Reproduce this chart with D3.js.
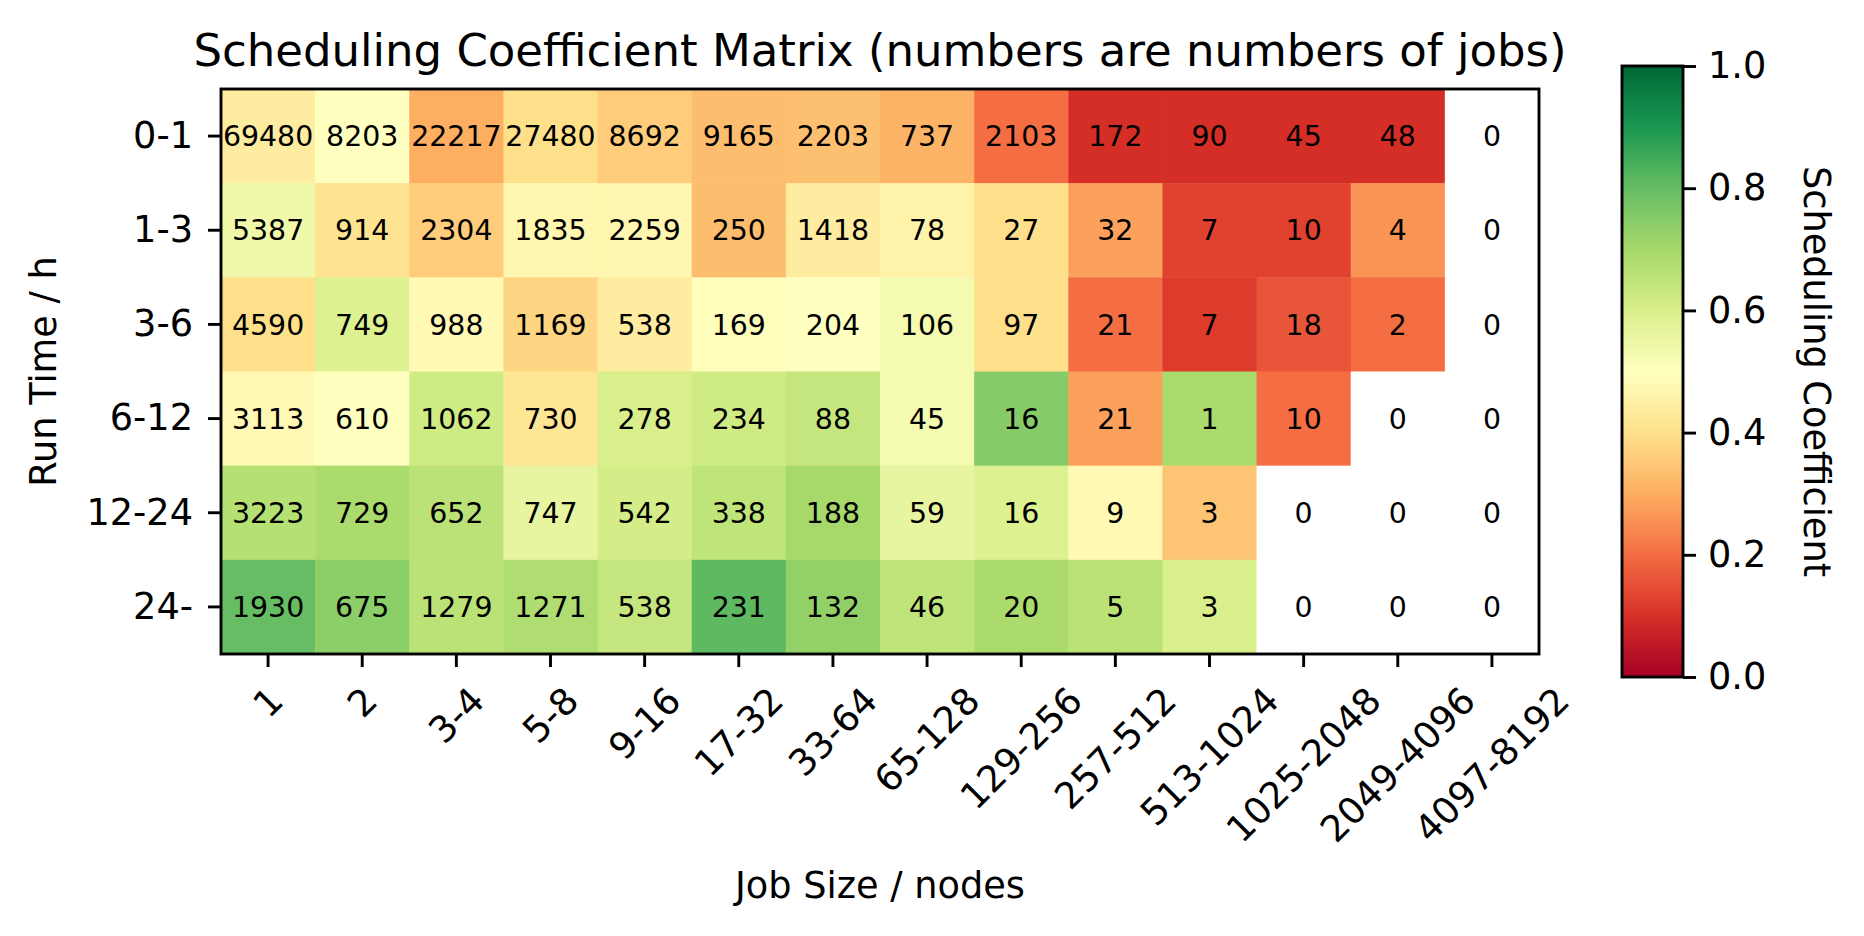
<!DOCTYPE html>
<html>
<head>
<meta charset="utf-8">
<script src="https://cdn.jsdelivr.net/npm/d3@7"></script>
<style>
	body { margin: 0; background: #fff; }
	text { font-family: "DejaVu Sans", sans-serif; fill: #000; }
</style>
</head>
<body>
<svg id="chart" width="1864" height="936"></svg>
<script>
var jobSizes = [ '1', '2', '3-4', '5-8', '9-16', '17-32', '33-64', '65-128', '129-256', '257-512', '513-1024', '1025-2048', '2049-4096', '4097-8192' ];

var runTimes = [ '0-1', '1-3', '3-6', '6-12', '12-24', '24-' ];

// numbers of jobs per cell (rows = run time, columns = job size)
var jobCounts = [
	[ 69480, 8203, 22217, 27480, 8692, 9165, 2203, 737, 2103, 172, 90, 45, 48, 0 ],
	[ 5387, 914, 2304, 1835, 2259, 250, 1418, 78, 27, 32, 7, 10, 4, 0 ],
	[ 4590, 749, 988, 1169, 538, 169, 204, 106, 97, 21, 7, 18, 2, 0 ],
	[ 3113, 610, 1062, 730, 278, 234, 88, 45, 16, 21, 1, 10, 0, 0 ],
	[ 3223, 729, 652, 747, 542, 338, 188, 59, 16, 9, 3, 0, 0, 0 ],
	[ 1930, 675, 1279, 1271, 538, 231, 132, 46, 20, 5, 3, 0, 0, 0 ]
];

// scheduling coefficient per cell, read from the colours (null = no jobs)
var coefficients = [
	[ 0.44, 0.50, 0.30, 0.40, 0.36, 0.33, 0.335, 0.31, 0.20, 0.095, 0.095, 0.095, 0.095, null ],
	[ 0.54, 0.41, 0.36, 0.47, 0.47, 0.33, 0.44, 0.46, 0.40, 0.28, 0.13, 0.13, 0.26, null ],
	[ 0.40, 0.59, 0.48, 0.38, 0.44, 0.495, 0.50, 0.53, 0.40, 0.20, 0.12, 0.16, 0.20, null ],
	[ 0.48, 0.50, 0.62, 0.42, 0.60, 0.62, 0.64, 0.53, 0.75, 0.28, 0.69, 0.20, null, null ],
	[ 0.67, 0.69, 0.66, 0.56, 0.61, 0.65, 0.70, 0.56, 0.59, 0.48, 0.345, null, null, null ],
	[ 0.80, 0.74, 0.66, 0.68, 0.64, 0.81, 0.73, 0.65, 0.69, 0.66, 0.60, null, null, null ]
];

var colorbarTicks = [ 0, 0.2, 0.4, 0.6, 0.8, 1.0 ];

// RdYlGn, linear between the brewer stops like matplotlib
var rdylgn = [ '#a50026', '#d73027', '#f46d43', '#fdae61', '#fee08b', '#ffffbf', '#d9ef8b', '#a6d96a', '#66bd63', '#1a9850', '#006837' ];

var plot = { left: 221, right: 1539, top: 89, bottom: 654 };
var bar = { left: 1622, right: 1683, top: 66, bottom: 677 };
var tickFont = 36.7;
var cellFont = 28.4;
var lineW = 2.9;
var tickLen = 13;

var svg = d3.select( '#chart' );

var x = d3.scaleBand().domain( jobSizes ).range( [ plot.left, plot.right ] ).padding( 0 );
var y = d3.scaleBand().domain( runTimes ).range( [ plot.top, plot.bottom ] ).padding( 0 );

var color = d3.scaleLinear()
	.domain( rdylgn.map( function ( d, i ) { return i / ( rdylgn.length - 1 ); } ) )
	.range( rdylgn )
	.interpolate( d3.interpolateRgb );

var cells = [];
runTimes.forEach( function ( r, i ) {
	jobSizes.forEach( function ( s, j ) {
		cells.push( { run: r, size: s, count: jobCounts[i][j], value: coefficients[i][j] } );
	} );
} );

svg.append( 'g' ).selectAll( 'rect' )
	.data( cells )
	.join( 'rect' )
	.attr( 'x', function ( d ) { return x( d.size ); } )
	.attr( 'y', function ( d ) { return y( d.run ); } )
	.attr( 'width', x.bandwidth() + 0.5 )
	.attr( 'height', y.bandwidth() + 0.5 )
	.attr( 'fill', function ( d ) { return d.value === null ? '#ffffff' : color( d.value ); } );

svg.append( 'g' ).selectAll( 'text' )
	.data( cells )
	.join( 'text' )
	.attr( 'x', function ( d ) { return x( d.size ) + x.bandwidth() / 2; } )
	.attr( 'y', function ( d ) { return y( d.run ) + y.bandwidth() / 2; } )
	.attr( 'dy', '0.36em' )
	.attr( 'text-anchor', 'middle' )
	.attr( 'font-size', cellFont )
	.text( function ( d ) { return d.count; } );

// frame
svg.append( 'rect' )
	.attr( 'x', plot.left )
	.attr( 'y', plot.top )
	.attr( 'width', plot.right - plot.left )
	.attr( 'height', plot.bottom - plot.top )
	.attr( 'fill', 'none' )
	.attr( 'stroke', '#000' )
	.attr( 'stroke-width', lineW );

// axes
var xAxis = svg.append( 'g' )
	.attr( 'transform', 'translate(0,' + plot.bottom + ')' )
	.call( d3.axisBottom( x ).tickSize( tickLen ).tickSizeOuter( 0 ) );

var labelTop = tickLen + 12;
xAxis.selectAll( '.tick text' )
	.attr( 'font-size', tickFont )
	.attr( 'text-anchor', 'middle' )
	.attr( 'dy', '0.346em' )
	.each( function () {
		var w = this.getComputedTextLength();
		var h = tickFont * 1.164;
		var half = ( w + h ) * Math.SQRT1_2 / 2;
		var cy = labelTop + half;
		d3.select( this )
			.attr( 'x', 0 )
			.attr( 'y', cy )
			.attr( 'transform', 'rotate(-45,0,' + cy + ')' );
	} );

var yAxis = svg.append( 'g' )
	.attr( 'transform', 'translate(' + plot.left + ',0)' )
	.call( d3.axisLeft( y ).tickSize( tickLen ).tickPadding( 15 ).tickSizeOuter( 0 ) );

yAxis.selectAll( '.tick text' ).attr( 'font-size', tickFont );

[ xAxis, yAxis ].forEach( function ( g ) {
	g.select( '.domain' ).remove();
	g.selectAll( '.tick line' ).attr( 'stroke', '#000' ).attr( 'stroke-width', lineW );
	g.attr( 'font-family', null );
} );

// titles
svg.append( 'text' )
	.attr( 'x', ( plot.left + plot.right ) / 2 )
	.attr( 'y', 66 )
	.attr( 'text-anchor', 'middle' )
	.attr( 'font-size', 45 )
	.text( 'Scheduling Coefficient Matrix (numbers are numbers of jobs)' );

svg.append( 'text' )
	.attr( 'x', ( plot.left + plot.right ) / 2 )
	.attr( 'y', 898 )
	.attr( 'text-anchor', 'middle' )
	.attr( 'font-size', tickFont )
	.text( 'Job Size / nodes' );

svg.append( 'text' )
	.attr( 'transform', 'translate(56,' + ( plot.top + plot.bottom ) / 2 + ') rotate(-90)' )
	.attr( 'text-anchor', 'middle' )
	.attr( 'font-size', tickFont )
	.text( 'Run Time / h' );

// colorbar
var grad = svg.append( 'defs' ).append( 'linearGradient' )
	.attr( 'id', 'cbar' )
	.attr( 'x1', 0 ).attr( 'y1', 1 ).attr( 'x2', 0 ).attr( 'y2', 0 );

grad.selectAll( 'stop' )
	.data( rdylgn )
	.join( 'stop' )
	.attr( 'offset', function ( d, i ) { return i / ( rdylgn.length - 1 ); } )
	.attr( 'stop-color', function ( d ) { return d; } );

svg.append( 'rect' )
	.attr( 'x', bar.left )
	.attr( 'y', bar.top )
	.attr( 'width', bar.right - bar.left )
	.attr( 'height', bar.bottom - bar.top )
	.attr( 'fill', 'url(#cbar)' )
	.attr( 'stroke', '#000' )
	.attr( 'stroke-width', lineW );

var cScale = d3.scaleLinear().domain( [ 0, 1 ] ).range( [ bar.bottom, bar.top ] );

var cAxis = svg.append( 'g' )
	.attr( 'transform', 'translate(' + bar.right + ',0)' )
	.call( d3.axisRight( cScale ).tickValues( colorbarTicks ).tickFormat( d3.format( '.1f' ) ).tickSize( tickLen ).tickPadding( 12 ) );

cAxis.select( '.domain' ).remove();
cAxis.selectAll( '.tick line' ).attr( 'stroke', '#000' ).attr( 'stroke-width', lineW );
cAxis.selectAll( '.tick text' ).attr( 'font-size', tickFont );
cAxis.attr( 'font-family', null );

svg.append( 'text' )
	.attr( 'transform', 'translate(1804,' + ( bar.top + bar.bottom ) / 2 + ') rotate(90)' )
	.attr( 'text-anchor', 'middle' )
	.attr( 'font-size', tickFont )
	.text( 'Scheduling Coefficient' );
</script>
</body>
</html>
